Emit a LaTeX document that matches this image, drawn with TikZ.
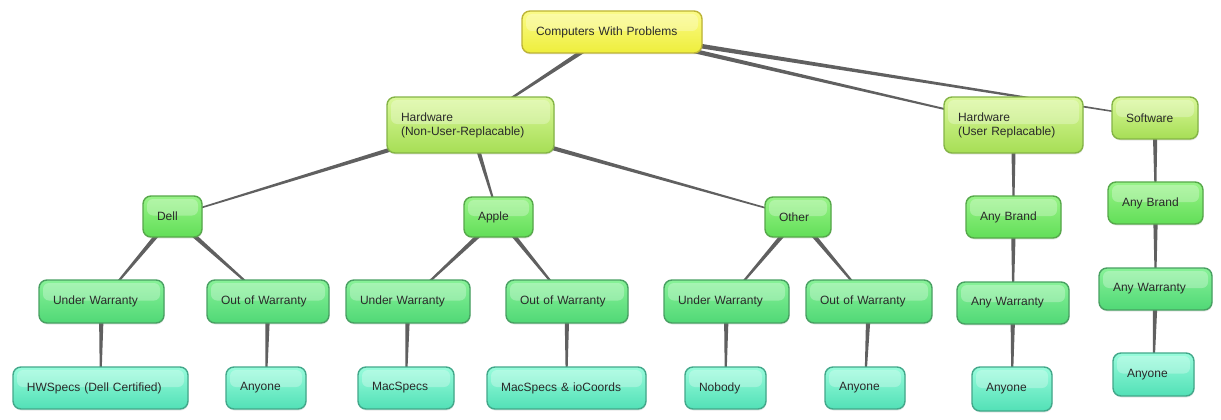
\documentclass[tikz,border=0pt]{standalone}
\usepackage{fontspec}
\setmainfont{Liberation Sans}
\usetikzlibrary{calc,shadows,backgrounds}
\definecolor{linegray}{HTML}{606060}
\definecolor{txt}{HTML}{2A2A2A}
\definecolor{yTop}{HTML}{FBFB88}\definecolor{yBot}{HTML}{EEEE3C}\definecolor{yBrd}{HTML}{BDB436}
\definecolor{hTop}{HTML}{DAF89A}\definecolor{hBot}{HTML}{A6DE55}\definecolor{hBrd}{HTML}{84B446}
\definecolor{gTop}{HTML}{98F488}\definecolor{gBot}{HTML}{62DE58}\definecolor{gBrd}{HTML}{56A84A}
\definecolor{wTop}{HTML}{88F298}\definecolor{wBot}{HTML}{50D876}\definecolor{wBrd}{HTML}{48A062}
\definecolor{aTop}{HTML}{98FCDC}\definecolor{aBot}{HTML}{52E0B6}\definecolor{aBrd}{HTML}{42A88A}
\newcommand\taper[2]{\fill[linegray] ($(#1)!2.6pt!90:(#2)$) -- ($(#1)!2.6pt!-90:(#2)$) -- ($(#2)!0.6pt!90:(#1)$) -- ($(#2)!0.6pt!-90:(#1)$) -- cycle;}
\begin{document}
\begin{tikzpicture}[x=1pt,y=1pt,
  every node/.style={font=\fontsize{12}{14}\selectfont, text=txt},
  boxbase/.style={rounded corners=8pt, line width=1.4pt, inner xsep=14pt, inner ysep=0pt, align=left,
    drop shadow={opacity=0.18, shadow xshift=0.5pt, shadow yshift=-1.5pt},
    path picture={\fill[white,opacity=0.28,rounded corners=6pt]
      ([xshift=4pt,yshift=-3pt]path picture bounding box.north west) rectangle
      ([xshift=-4pt,yshift=1pt]path picture bounding box.east);}},
  ybox/.style={boxbase, draw=yBrd, top color=yTop, bottom color=yBot},
  hbox/.style={boxbase, draw=hBrd, top color=hTop, bottom color=hBot},
  gbox/.style={boxbase, draw=gBrd, top color=gTop, bottom color=gBot},
  wbox/.style={boxbase, draw=wBrd, top color=wTop, bottom color=wBot},
  abox/.style={boxbase, draw=aBrd, top color=aTop, bottom color=aBot},
  sz/.style 2 args={text width=#1, minimum height=#2}]
\useasboundingbox (0,0) rectangle (1221,-420);
% top
\node[ybox, sz={152pt}{42pt}] (comp) at (612,-32) {Computers With Problems};
% level 1
\node[hbox, sz={139pt}{56pt}] (hwn) at (470.5,-125) {Hardware\\(Non-User-Replacable)};
\node[hbox, sz={111pt}{56pt}] (hwu) at (1013.5,-125) {Hardware\\(User Replacable)};
\node[hbox, sz={58pt}{42pt}] (sw) at (1155,-118) {Software};
% level 2
\node[gbox, sz={31pt}{41pt}] (dell) at (172.5,-216.5) {Dell};
\node[gbox, sz={41pt}{40pt}] (apple) at (498.5,-217) {Apple};
\node[gbox, sz={38pt}{40pt}] (other) at (798,-217) {Other};
\node[gbox, sz={67pt}{42pt}] (abh) at (1013.5,-217) {Any Brand};
\node[gbox, sz={67pt}{42pt}] (abs) at (1155.5,-203) {Any Brand};
% level 3
\node[wbox, sz={97pt}{43pt}] (duw) at (101.5,-301.5) {Under Warranty};
\node[wbox, sz={94pt}{43pt}] (dow) at (268,-301.5) {Out of Warranty};
\node[wbox, sz={96pt}{43pt}] (auw) at (408,-301.5) {Under Warranty};
\node[wbox, sz={94pt}{43pt}] (aow) at (567,-301.5) {Out of Warranty};
\node[wbox, sz={97pt}{43pt}] (ouw) at (726.5,-301.5) {Under Warranty};
\node[wbox, sz={98pt}{43pt}] (oow) at (869,-301.5) {Out of Warranty};
\node[wbox, sz={84pt}{42pt}] (awh) at (1013,-303) {Any Warranty};
\node[wbox, sz={85pt}{42pt}] (aws) at (1155.5,-289) {Any Warranty};
% leaves
\node[abox, sz={147pt}{42pt}] (hws) at (100.5,-388) {HWSpecs (Dell Certified)};
\node[abox, sz={52pt}{42pt}] (dany) at (266,-388) {Anyone};
\node[abox, sz={68pt}{42pt}] (mac) at (406,-388) {MacSpecs};
\node[abox, sz={131pt}{42pt}] (mio) at (566.5,-388) {MacSpecs \& ioCoords};
\node[abox, sz={53pt}{42pt}] (nob) at (725.5,-388) {Nobody};
\node[abox, sz={52pt}{42pt}] (oany) at (865,-388) {Anyone};
\node[abox, sz={52pt}{44pt}] (hany) at (1012,-389) {Anyone};
\node[abox, sz={53pt}{43pt}] (sany) at (1153.5,-374.5) {Anyone};
% connectors
\begin{scope}[on background layer]
\taper{comp}{hwn}
\taper{comp}{hwu}
\taper{comp}{sw}
\taper{hwn}{dell}
\taper{hwn}{apple}
\taper{hwn}{other}
\taper{dell}{duw}
\taper{dell}{dow}
\taper{apple}{auw}
\taper{apple}{aow}
\taper{other}{ouw}
\taper{other}{oow}
\taper{duw}{hws}
\taper{dow}{dany}
\taper{auw}{mac}
\taper{aow}{mio}
\taper{ouw}{nob}
\taper{oow}{oany}
\taper{hwu}{abh}
\taper{abh}{awh}
\taper{awh}{hany}
\taper{sw}{abs}
\taper{abs}{aws}
\taper{aws}{sany}
\end{scope}
\end{tikzpicture}
\end{document}
